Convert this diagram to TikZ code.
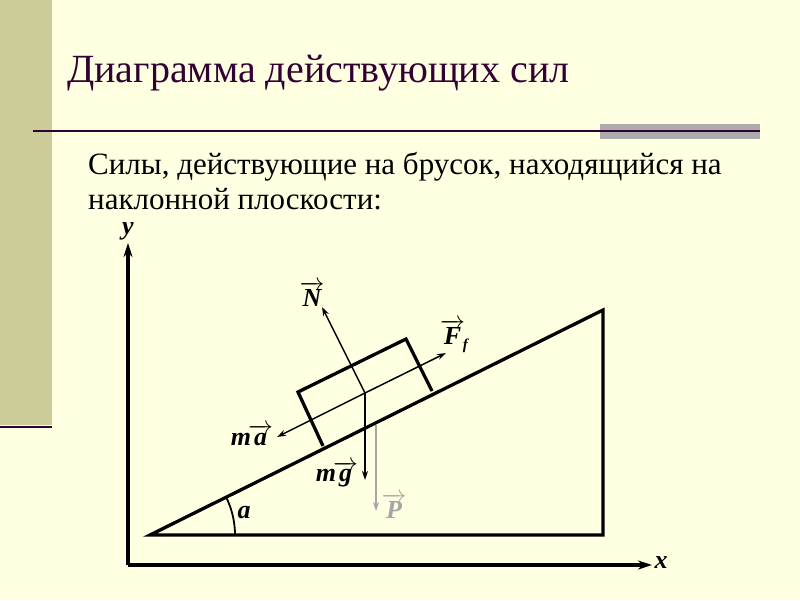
\documentclass[tikz,border=0pt]{standalone}
\usepackage{fontspec}
\setmainfont{Liberation Serif}
\usetikzlibrary{arrows.meta}
\definecolor{bg}{RGB}{255,255,226}
\definecolor{barc}{RGB}{204,204,153}
\definecolor{dp}{RGB}{51,0,51}
\tikzset{thick3/.style={line width=3.3pt},
 force/.style={line width=1.5pt,-{Stealth[length=9pt,width=6pt]}},
 lab/.style={font=\bfseries\itshape\fontsize{26}{26}\selectfont,inner sep=1pt}}
\newcommand{\vecl}[1]{$\overrightarrow{\hbox{\bfseries\itshape #1}}$}
\begin{document}
\begin{tikzpicture}[x=1pt,y=-1pt]
\fill[bg] (0,0) rectangle (800,600);
\useasboundingbox (0,0) rectangle (800,600);
\fill[barc] (0,0) rectangle (52,425);
\draw[dp,line width=2.5pt] (0,427) -- (52,427);
\fill[gray!65] (600,124) rectangle (760,139);
\draw[dp,line width=1.2pt] (33,131) -- (760,131);
\node[anchor=base west,text=dp,font=\fontsize{40}{40}\selectfont,inner sep=0] (title) at (67,82) {Диаграмма действующих сил};
\node[anchor=base west,font=\fontsize{31}{35}\selectfont,inner sep=0] (txt) at (88,174) {Силы, действующие на брусок, находящийся на};
\node[anchor=base west,font=\fontsize{31}{35}\selectfont,inner sep=0] (txt2) at (88,209) {наклонной плоскости:};
% axes
\coordinate (O) at (128,565);
\coordinate (Y) at (128,243);
\coordinate (X) at (652,565);
\draw[thick3,-{Stealth[length=14pt,width=9pt]}] (O) -- (Y);
\draw[thick3,-{Stealth[length=14pt,width=9pt]}] (O) -- (X);
\node[lab] (ly) at (128,231) {y};
\node[lab] (lx) at (661,563) {x};
% incline
\coordinate (A) at (150,535);
\coordinate (B) at (603,310);
\coordinate (C) at (603,535);
\draw[thick3,line join=miter] (A) -- (B) -- (C) -- cycle;
\draw[line width=1.8pt] (235,535) arc[start angle=0,end angle=-26.4,radius=85];
\node[lab] (la) at (244,513) {a};
% block
\draw[thick3] (323,446) -- (298,392) -- (406,339) -- (432,391);
\coordinate (M) at (365,393);
\coordinate (N) at (322,307);
\coordinate (F) at (446,353);
\coordinate (Ma) at (277,437);
\coordinate (G) at (365,480);
\coordinate (P0) at (376,425);
\coordinate (P1) at (376,511);
\draw[force] (M) -- (N);
\draw[force] (M) -- (F);
\draw[force] (M) -- (Ma);
\draw[force] (M) -- (G);
\draw[gray!70,line width=1.5pt,-{Stealth[length=9pt,width=6pt]}] (P0) -- (P1);
\node[lab] (lN) at (312,294) {\vecl{N}};
\node[lab] (lF) at (454,336) {\vecl{F}\kern-2pt\raisebox{-5pt}{\fontsize{15}{15}\selectfont f}};
\node[lab] (lma) at (252,435) {m\kern-3pt\vecl{a}};
\node[lab] (lmg) at (337,474) {m\kern-3pt\vecl{g}};
\node[lab,text=gray!70] (lP) at (394,506) {\color{gray!70}\vecl{P}};
\end{tikzpicture}
\end{document}
